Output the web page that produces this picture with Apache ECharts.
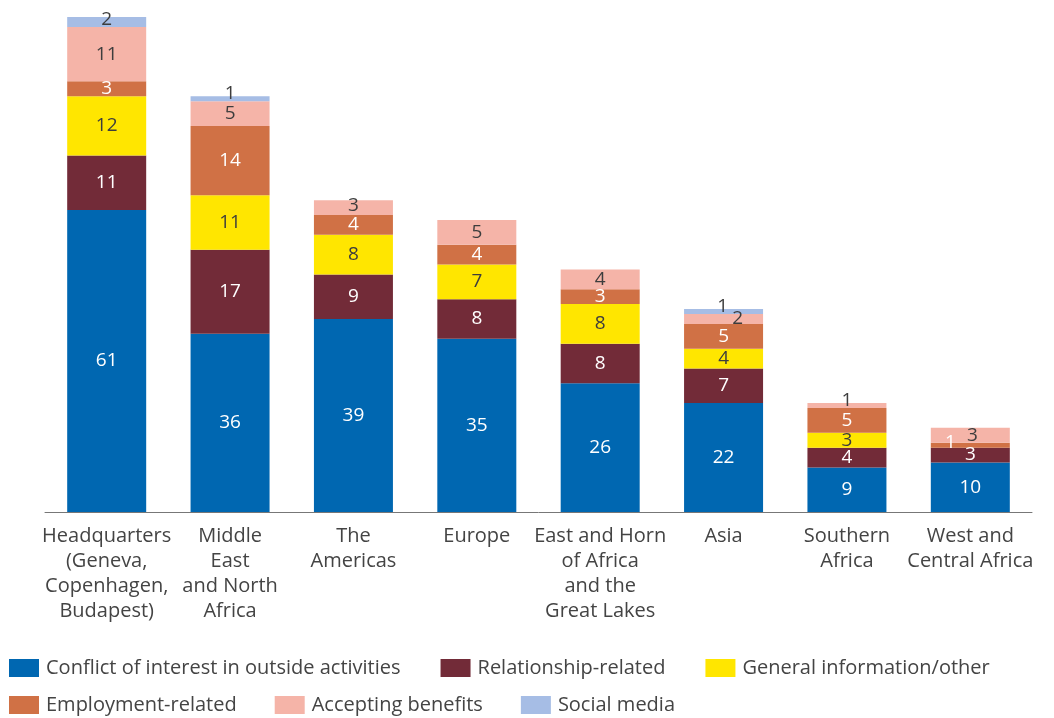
<!DOCTYPE html>
<html>
<head>
<meta charset="utf-8">
<script src="https://cdn.jsdelivr.net/npm/echarts@6/dist/echarts.min.js"></script>
<style>
html,body{margin:0;padding:0;background:#fff;}
#chart{width:1054px;height:718px;}
</style>
</head>
<body>
<div id="chart"></div>
<script>
const categories = [
  "Headquarters\n(Geneva,\nCopenhagen,\nBudapest)",
  "Middle\nEast\nand North\nAfrica",
  "The\nAmericas",
  "Europe",
  "East and Horn\nof Africa\nand the\nGreat Lakes",
  "Asia",
  "Southern\nAfrica",
  "West and\nCentral Africa"
];
const seriesNames = [
  "Conflict of interest in outside activities",
  "Relationship-related",
  "General information/other",
  "Employment-related",
  "Accepting benefits",
  "Social media"
];
const conflict      = [61, 36, 39, 35, 26, 22, 9, 10];
const relationship  = [11, 17, 9, 8, 8, 7, 4, 3];
const generalInfo   = [12, 11, 8, 7, 8, 4, 3, 0];
const employment    = [3, 14, 4, 4, 3, 5, 5, 1];
const benefits      = [11, 5, 3, 5, 4, 2, 1, 3];
const socialMedia   = [2, 1, 0, 0, 0, 1, 0, 0];

const values = [conflict, relationship, generalInfo, employment, benefits, socialMedia];
const colors = ["#0067b1", "#722b38", "#ffe600", "#d07145", "#f5b4a8", "#a6bde5"];
const labelColors = ["#ffffff", "#ffffff", "#3d3d3d", "#ffffff", "#3d3d3d", "#3d3d3d"];
const FONT = "'Open Sans', Lato, sans-serif";

// label nudges for very thin segments: key "series-index" -> [dx, dy]
const nudges = {
  "5-1": [0, -5],
  "5-0": [0, -2],
  "5-5": [-1, -5],
  "4-5": [14, 0],
  "4-6": [0, -5],
  "3-7": [-20, -3],
  "4-7": [2, 0],
  "4-2": [0, -2]
};

const series = values.map((arr, s) => ({
  name: seriesNames[s],
  type: 'bar',
  stack: 'total',
  barWidth: 79,
  itemStyle: { color: colors[s] },
  data: arr.map((v, i) => {
    const d = { value: v === 0 ? null : v };
    const n = nudges[s + "-" + i];
    if (n) d.label = { offset: n };
    return d;
  }),
  label: {
    show: true,
    position: 'inside',
    color: labelColors[s],
    fontSize: 19,
    fontFamily: FONT,
    formatter: p => p.value
  }
}));

const chart = echarts.init(document.getElementById('chart'), null, { renderer: 'canvas' });
chart.setOption({
  animation: false,
  backgroundColor: '#ffffff',
  grid: { left: 45, right: 22, top: 17, bottom: 206, containLabel: false },
  xAxis: {
    type: 'category',
    data: categories,
    axisLine: { show: true, lineStyle: { color: '#777', width: 1 } },
    axisTick: { show: false },
    axisLabel: {
      interval: 0,
      color: '#444',
      fontSize: 20,
      lineHeight: 25,
      margin: 12,
      fontFamily: FONT
    }
  },
  yAxis: {
    type: 'value',
    min: 0,
    max: 100,
    show: false,
    splitLine: { show: false }
  },
  legend: [
    {
      data: seriesNames.slice(0, 3),
      left: 9, top: 658, padding: 0,
      itemWidth: 30, itemHeight: 18, itemGap: 40,
      icon: 'rect',
      textStyle: { color: '#444', fontSize: 20, fontFamily: FONT, padding: [0, 0, 0, 2] }
    },
    {
      data: seriesNames.slice(3),
      left: 9, top: 695, padding: 0,
      itemWidth: 30, itemHeight: 18, itemGap: 38,
      icon: 'rect',
      textStyle: { color: '#444', fontSize: 20, fontFamily: FONT, padding: [0, 0, 0, 2] }
    }
  ],
  series: series
});
</script>
</body>
</html>
